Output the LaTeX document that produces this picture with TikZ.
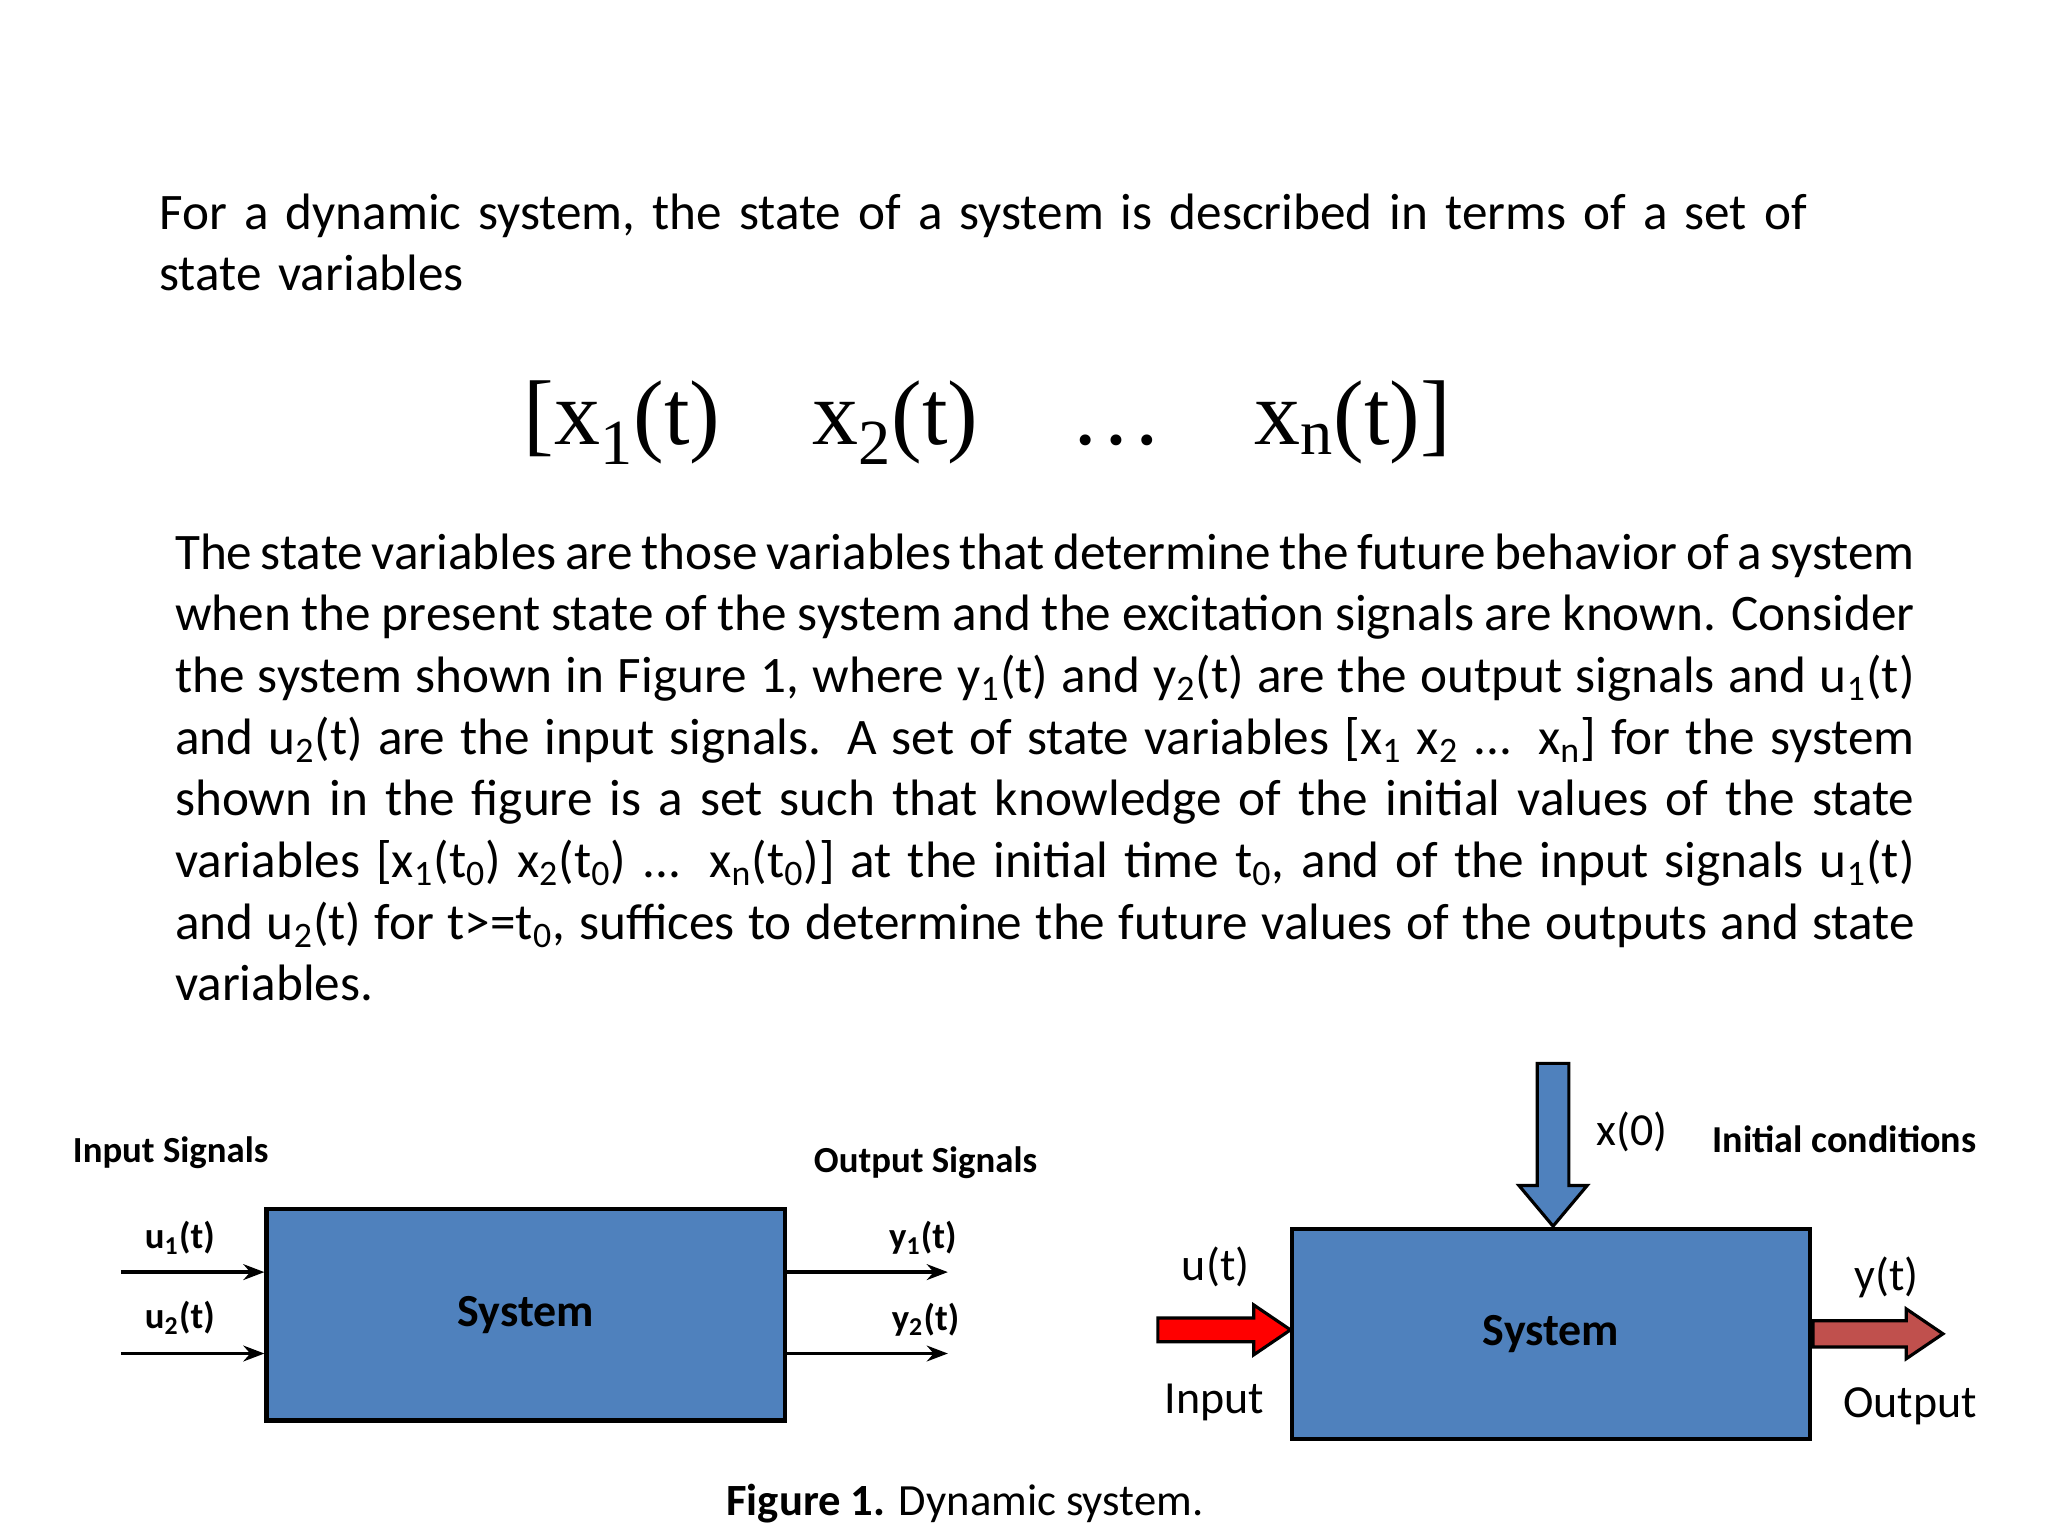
\documentclass[tikz,border=0pt]{standalone}
\usepackage{fontspec}
\setmainfont{Carlito}
\newfontfamily\tms{Liberation Serif}
\usetikzlibrary{arrows.meta}
\definecolor{sysblue}{HTML}{4F81BD}
\definecolor{outred}{HTML}{C0504D}
\newcommand{\sbs}[1]{\textsubscript{#1}}
\begin{document}
\begin{tikzpicture}[x=0.5pt,y=-0.5pt,
  body/.style={inner sep=0pt,font=\fontsize{19.5}{23.5}\selectfont},
  sysbox/.style={draw=black,line width=1.6pt,fill=sysblue},
  lbl/.style={inner sep=0pt,font=\fontsize{14}{16}\selectfont\bfseries},
  big/.style={inner sep=0pt,font=\fontsize{17.5}{20}\selectfont},
  sig/.style={line width=1.4pt,-{Stealth[length=8pt,width=6pt]}}]
\useasboundingbox (0,0) rectangle (1560,1170);
\node[body,anchor=north west,text width=660pt,align=left] (p1) at (121,147) {For a dynamic system, the state of a system is described in terms of a set of state variables};
\node[inner sep=0pt,font=\tms\fontsize{35}{40}\selectfont] (eq) at (752,322) {[x\textsubscript{1}(t)\quad x\textsubscript{2}(t)\quad \dots\quad x\textsubscript{n}(t)]};
\node[body,anchor=north west,text width=662.5pt,align=justify] (p2) at (133,406) {The state variables are those variables that determine the future behavior of a system when the present state of the system and the excitation signals are known. Consider the system shown in Figure 1, where y\sbs{1}(t) and y\sbs{2}(t) are the output signals and u\sbs{1}(t) and u\sbs{2}(t) are the input signals. A set of state variables [x\sbs{1} x\sbs{2} ... x\sbs{n}] for the system shown in the figure is a set such that knowledge of the initial values of the state variables [x\sbs{1}(t\sbs{0}) x\sbs{2}(t\sbs{0}) ... x\sbs{n}(t\sbs{0})] at the initial time t\sbs{0}, and of the input signals u\sbs{1}(t) and u\sbs{2}(t) for t>=t\sbs{0}, suffices to determine the future values of the outputs and state variables.};
% left diagram
\node[sysbox,minimum width=197.5pt,minimum height=80.5pt,font=\fontsize{17.5}{20}\selectfont\bfseries] (s1) at (400.5,1001.5) {System};
\coordinate (i1) at (92,969); \coordinate (i2) at (92,1031);
\coordinate (o1) at (722,969); \coordinate (o2) at (722,1031);
\draw[sig] (i1) -- (i1 -| s1.west);
\draw[sig] (i2) -- (i2 -| s1.west);
\draw[sig] (o1 -| s1.east) -- (o1);
\draw[sig] (o2 -| s1.east) -- (o2);
\node[lbl] (u1) at (137,943) {u\sbs{1}(t)};
\node[lbl] (u2) at (137,1004) {u\sbs{2}(t)};
\node[lbl] (y1) at (703,943) {y\sbs{1}(t)};
\node[lbl] (y2) at (705,1005) {y\sbs{2}(t)};
\node[lbl] (is) at (130,878) {Input Signals};
\node[lbl] (os) at (705,886) {Output Signals};
% right diagram
\node[sysbox,minimum width=197.5pt,minimum height=80pt,font=\fontsize{17.5}{20}\selectfont\bfseries] (s2) at (1181.5,1016) {System};
\draw[line width=1.2pt,fill=sysblue] (1171,810) -- (1195,810) -- (1195,903) -- (1209,903) -- (1183,934) -- (1157,903) -- (1171,903) -- cycle;
\draw[line width=1.2pt,fill=red] (882,1004) -- (955,1004) -- (955,994) -- (983,1013) -- (955,1032) -- (955,1022) -- (882,1022) -- cycle;
\draw[line width=1.2pt,fill=outred] (1381,1006) -- (1452,1006) -- (1452,997) -- (1480,1016) -- (1452,1035) -- (1452,1026) -- (1381,1026) -- cycle;
\node[big] (x0) at (1243,862) {x(0)};
\node[lbl,font=\fontsize{14.5}{16}\selectfont\bfseries] (ic) at (1405,868) {Initial conditions};
\node[big] (ut) at (926,965) {u(t)};
\node[big] (in) at (925,1068) {Input};
\node[big] (yt) at (1437,973) {y(t)};
\node[big] (out) at (1455,1071) {Output};
\node[inner sep=0pt,font=\fontsize{17}{20}\selectfont] (cap) at (735,1145) {\textbf{Figure 1.} Dynamic system.};
\end{tikzpicture}
\end{document}
